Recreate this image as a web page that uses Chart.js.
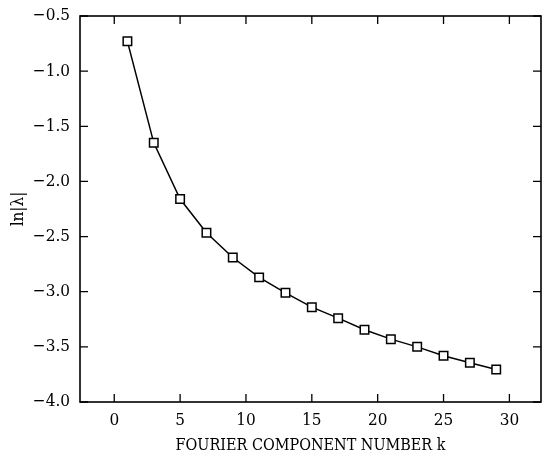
<!DOCTYPE html>
<html>
<head>
<meta charset="utf-8">
<script src="https://cdn.jsdelivr.net/npm/chart.js@4/dist/chart.umd.min.js"></script>
<style>
  html, body { margin: 0; padding: 0; background: #fff; }
  #wrap { width: 542px; height: 455px; }
</style>
</head>
<body>
<div id="wrap"><canvas id="chart" width="542" height="455"></canvas></div>
<script>
const kValues = [1, 3, 5, 7, 9, 11, 13, 15, 17, 19, 21, 23, 25, 27, 29];
const lnLambda = [-0.73, -1.65, -2.16, -2.465, -2.69, -2.87, -3.01, -3.14, -3.24, -3.345, -3.43, -3.50, -3.58, -3.645, -3.705];
const xTicks = [0, 5, 10, 15, 20, 25, 30];
const yTicks = [-0.5, -1.0, -1.5, -2.0, -2.5, -3.0, -3.5, -4.0];

const FONT = '"DejaVu Serif Condensed", "DejaVu Serif", serif';

// inward ticks on all four sides plus the frame
const frameTicks = {
    id: 'frameTicks',
    afterDraw(chart) {
        const { ctx, chartArea: a, scales } = chart;
        ctx.save();
        ctx.strokeStyle = '#000';
        ctx.lineWidth = 1.6;
        ctx.strokeRect(a.left, a.top, a.right - a.left, a.bottom - a.top);
        ctx.lineWidth = 1.3;
        const len = 8;
        ctx.beginPath();
        xTicks.forEach(v => {
            const px = scales.x.getPixelForValue(v);
            ctx.moveTo(px, a.bottom); ctx.lineTo(px, a.bottom - len);
            ctx.moveTo(px, a.top); ctx.lineTo(px, a.top + len);
        });
        yTicks.forEach(v => {
            const py = scales.y.getPixelForValue(v);
            ctx.moveTo(a.left, py); ctx.lineTo(a.left + len, py);
            ctx.moveTo(a.right, py); ctx.lineTo(a.right - len, py);
        });
        ctx.stroke();
        ctx.restore();
    }
};

new Chart(document.getElementById('chart'), {
    type: 'line',
    data: {
        datasets: [{
            data: kValues.map((k, i) => ({ x: k, y: lnLambda[i] })),
            borderColor: '#000',
            borderWidth: 1.5,
            pointStyle: 'rect',
            pointRadius: 6,
            pointBorderWidth: 1.5,
            pointBackgroundColor: '#fff',
            pointBorderColor: '#000',
            tension: 0
        }]
    },
    options: {
        responsive: false,
        animation: false,
        layout: { autoPadding: false, padding: { top: 16, right: 1, left: 8, bottom: 0 } },
        plugins: { legend: { display: false }, tooltip: { enabled: false } },
        scales: {
            x: {
                type: 'linear', min: -2.6, max: 32.4,
                afterBuildTicks: s => { s.ticks = xTicks.map(v => ({ value: v })); },
                afterFit: s => { s.height = 53; s.paddingLeft = 0; s.paddingRight = 0; },
                grid: { display: false, drawTicks: false },
                border: { display: false },
                ticks: { color: '#000', font: { family: FONT, size: 17 }, padding: 8, maxRotation: 0 },
                title: { display: true, text: 'FOURIER COMPONENT NUMBER k', color: '#000', font: { family: FONT, size: 16 }, padding: { top: 2, bottom: 0 } }
            },
            y: {
                type: 'linear', min: -4.0, max: -0.5,
                afterBuildTicks: s => { s.ticks = yTicks.map(v => ({ value: v })); },
                afterFit: s => { s.width = 72; s.paddingTop = 0; s.paddingBottom = 0; },
                grid: { display: false, drawTicks: false },
                border: { display: false },
                ticks: {
                    color: '#000', font: { family: FONT, size: 17 }, padding: 10,
                    callback: v => v.toFixed(1).replace('-', '\u2212')
                },
                title: { display: true, text: 'ln|\u03bb|', color: '#000', font: { family: FONT, size: 17 }, padding: { top: 0, bottom: 0 } }
            }
        }
    },
    plugins: [frameTicks]
});
</script>
</body>
</html>
